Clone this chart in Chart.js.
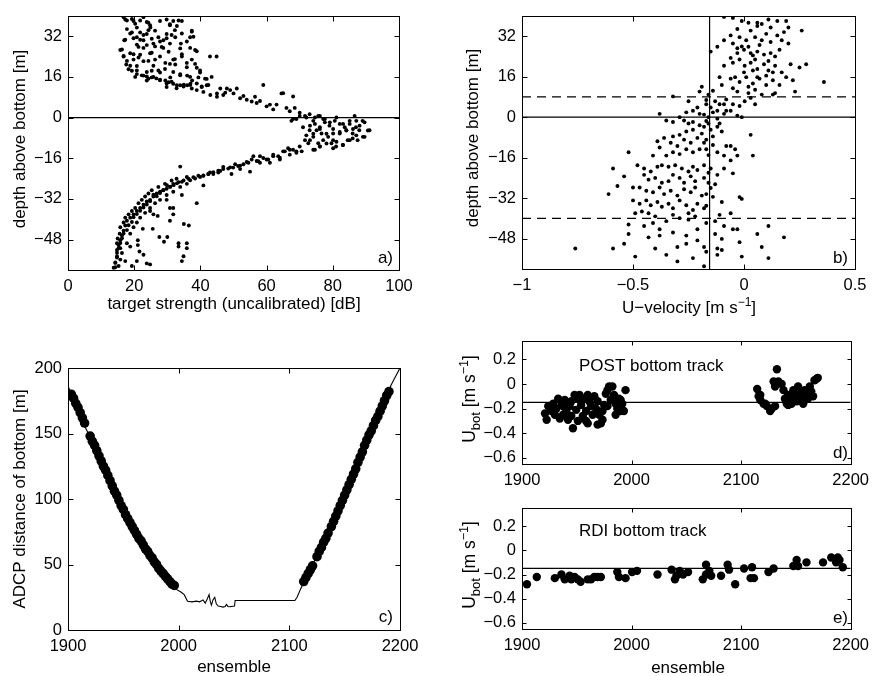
<!DOCTYPE html>
<html>
<head>
<meta charset="utf-8">
<script src="https://cdn.jsdelivr.net/npm/chart.js@4.4.1/dist/chart.umd.min.js"></script>
<style>
  html, body { margin: 0; padding: 0; background: #fff; }
  #fig { position: relative; width: 876px; height: 676px; overflow: hidden; }
  #fig canvas { position: absolute; }
</style>
</head>
<body>
<div id="fig">
  <canvas id="pa"></canvas>
  <canvas id="pb"></canvas>
  <canvas id="pc"></canvas>
  <canvas id="pd"></canvas>
  <canvas id="pe"></canvas>
</div>
<script>
// ---------- axis ranges and tick labels ----------
const depthRange = [-60, 40];
const depthTicks = [-48, -32, -16, 0, 16, 32];
const strengthRange = [0, 100];
const strengthTicks = [0, 20, 40, 60, 80, 100];
const velocityRange = [-1, 0.5];
const velocityTicks = [-1, -0.5, 0, 0.5];
const ensembleRange = [1900, 2200];
const ensembleTicks = [1900, 2000, 2100, 2200];
const distanceRange = [0, 200];
const distanceTicks = [0, 50, 100, 150, 200];
const ubotRange = [-0.65, 0.35];
const ubotTicks = [-0.6, -0.4, -0.2, 0, 0.2];

// ---------- a) target strength vs depth above bottom [dB, m] ----------
const targetStrength = [
  [17.3,38.6],[19.8,38],[20.8,35.4],[24.3,37.3],[24.9,35.4],[27.8,38],[29.8,38.6],[30.8,36.7],[31.8,38],[34.4,38],[32.9,36],
  [17.8,34.8],[17,30.4],[19.3,33.5],[20.8,31.6],[21.8,33.5],[22.8,30.4],[23.8,32.9],[25.3,31],[26.3,34.2],[27.3,31.6],
  [28.8,30.4],[29.8,32.9],[30.8,29.1],[32.4,31.6],[34.1,29.1],[36.9,31.6],[37.4,34.2],[25.8,29.1],[28.3,27.8],[21.3,27.8],[23.8,28.5],
  [15.8,26.6],[16.8,24],[18.8,25.3],[19.8,22.8],[21.8,24.7],[22.8,22.2],[24.8,25.3],[26.3,22.8],[27.8,24],[29.4,21.5],
  [30.4,25.9],[31.8,22.8],[33.9,27.2],[34.4,24],[37.4,22.8],[38.4,26.6],[42.9,24],[44.9,24],[17.6,20.9],[18.3,19],
  [20.8,20.3],[32.4,20.9],[35.9,21.5],[38.9,19.6],
  [16.8,39.5],[17.8,38.2],[19.3,38.8],[20.3,36.9],[21.8,38.2],[22.8,39.5],[23.8,37.6],[24.8,36.3],[24.3,34.4],[22.8,32.5],
  [21.8,30.6],[20.8,28.7],[19.8,31.2],[18.8,33.1],[17.3,30.6],[16.3,26.8],[16.8,24.2],[17.8,22.3],[18.8,20.4],[19.8,24.9],
  [21.3,23.6],[22.8,27.4],[24.3,22.3],[25.3,25.5],[26.3,28],[27.8,29.9],[28.8,27.4],[29.8,31.2],[31.3,32.5],[32.3,34.4],
  [30.8,36.3],[33.4,38.2],[34.4,33.1],[35.9,29.9],[36.9,27.4],[37.9,31.8],[38.9,26.1],[37.4,33.8],[34.4,24.9],[32.3,23],
  [30.8,21.1],[29.3,19.1],[27.3,18.5],[25.8,20.4],[23.8,17.9],[22.3,16.6],[20.8,18.5],[20.3,16],[31.8,17.9],[33.9,16.6],
  [35.9,19.8],[36.9,16],[38.4,21.1],[39.9,18.5],[41.4,15.3],[42.4,12.8],[43.4,16],[40.4,12.2],[38.9,13.4],[36.9,12.8],
  [34.9,12.2],[32.8,11.5],[31.3,14.1],[29.8,13.4],[27.8,14.7],[25.8,16],[24.3,15.3],[59,12.8],[65,9.6],[68,8.3],
  [19.3,18.4],[20.8,17.1],[22.8,16.5],[23.8,16.2],[25.3,15.8],[26.7,15.4],[27.8,14.9],[29.4,14.6],[30.4,13.9],[31.8,13.3],
  [32.9,12.7],[33.9,12.7],[35,12.9],[36,12.7],[37,13.3],[37.5,14.6],[39.4,15.8],[39.9,17.7],[41.9,15.2],[41.9,12.7],
  [30.9,15.8],[33.9,17.1],[36,16.5],[27.8,17.7],[25.3,18.4],[23.8,14.6],[29.8,12],
  [38.9,10.8],[40.9,10.1],[43,8.9],[45,9.5],[46.9,8.9],[48,11.4],[49,10.8],[50,9.5],[51,11.4],[52,7.6],[54,7],[55.5,6.3],
  [56.5,8.2],[57,5.7],[60,4.4],[61,5.1],[62,3.2],[63,5.1],[64.5,9.5],[66,3.8],[67,2.5],[68.5,3.8],[45,8.2],
  [40.4,12],[46,11.4],[37.4,11.4],[58,6.5],[53,8.5],[47.5,9.8],
  [70,1.9],[71.6,0.6],[73,1.3],[74.6,0],[76.1,0.6],[77.6,-0.6],[67.5,-1.3],[69,-0.6],
  [68,-0.6],[70,0.6],[72,0],[74.1,-1.3],[75.6,0.6],[77.1,-0.6],[79.1,-1.9],[81.1,0],[83.1,-2.5],[85.1,-1.3],[86.6,0.6],
  [88.1,-3.2],[89.6,-1.9],[90.6,-5.1],[89.1,-7.6],[87.1,-7],[85.1,-8.9],[83.1,-10.8],[81.1,-9.5],[80.1,-12.1],[78.1,-10.2],
  [76.1,-11.4],[74.6,-12.7],[73.1,-8.9],[72,-7],[74.1,-6.4],[76.1,-4.5],[78.1,-6.4],[80.1,-4.5],[82.1,-5.7],[84.1,-5.1],
  [86.1,-4.5],[87.1,-1.3],[71,-3.8],[73.1,-3.2],
  [73,-5],[74.6,-2.5],[76.1,-3.8],[77.6,-1.9],[79,-3.2],[80.6,-1.3],[82.1,-2.5],[83.6,-3.8],[85.1,-2.5],[89,-1.3],
  [91.1,-5],[89.6,-7.6],[88,-5],[86,-6.3],[84.5,-8.9],[83,-10.8],[81,-11.4],[79.6,-10.1],[78.6,-7.6],[77.1,-8.9],
  [75.6,-10.1],[74.1,-7.6],[72.6,-10.1],[71.6,-8.9],[80.1,-6.3],[82.1,-6.3],[84.1,-5],[86,-8.2],[87,-3.8],[75.1,-5],
  [76.6,-6.3],[74.1,-12.7],[76.1,-11.4],[80.1,-8.9],[87.5,-8.9],
  [70,-11.4],[68,-12.7],[66.5,-12.1],[65,-13.3],[63.5,-15.2],[62,-14.6],[60.5,-16.5],[59,-15.9],[57.5,-17.2],[56,-15.2],
  [54.5,-17.8],[53,-18.4],[51.4,-19.1],[49.9,-19.7],[48.4,-20.1],[46.9,-20.3],[45.4,-21.6],[43.9,-22.2],[42.4,-22.2],
  [40.9,-22.9],[39.4,-22.9],[40.9,-26.7],[33.9,-19.3],[55,-21.3],[49.4,-22.2],[67,-14.6],[69,-13.3],[64,-16.5],[61,-17.8],
  [58,-17.8],[52,-20.3],[46,-21],[42.9,-21.6],
  [70.6,-13.3],[69,-13.9],[67,-12.7],[65.5,-13.3],[64,-15.8],[62,-15.2],[60,-16.5],[58,-15.2],[57,-17.1],[55.5,-16.5],
  [54,-17.5],[52,-19],[50.5,-18.4],[49,-19.6],[46.9,-19.4],[45.4,-20.9],[43.9,-21.5],[42.4,-22.2],[40.9,-22.8],[39.9,-23.4],
  [38.4,-24],[36.9,-24.7],[35.9,-23.4],[34.4,-25.3],[32.9,-25.9],[31.9,-26.6],[30.9,-27.2],[29.9,-26.6],[28.8,-28.5],
  [27.8,-29.7],[26.8,-31],[25.8,-30.4],[24.8,-32.9],[23.8,-34.2],[22.8,-35.4],[21.8,-36.7],[20.8,-38],[19.8,-39.2],
  [19.3,-41.1],[18.3,-42.4],[17.8,-44.3],[16.8,-45.6],[16.3,-47.5],[15.8,-49.4],[15.3,-51.3],[14.8,-53.2],[14.8,-55.1],
  [14.3,-57],[14.3,-58.9],
  [37.9,-23.5],[36.4,-24.1],[34.9,-24.8],[33.4,-25.4],[31.8,-26.1],[30.8,-27.3],[29.8,-28],[28.8,-28.6],[27.8,-29.2],
  [26.8,-29.9],[25.8,-31.1],[24.8,-32.4],[23.8,-33],[22.8,-34.3],[21.8,-35.6],[20.8,-36.8],[19.8,-38.1],[18.8,-39.4],
  [17.8,-40.6],[17.3,-42.5],[16.8,-44.5],[16.3,-46.4],[15.8,-48.3],[15.3,-50.2],[14.8,-52.1],[14.8,-54.6],[14.3,-57.2],
  [13.8,-59.1],[32.8,-24.1],[31.3,-24.8],[29.3,-26.1],[27.3,-27.3],[25.3,-28.6],[24.3,-29.9],[23.3,-31.1],[22.3,-32.4],
  [21.3,-33.7],[20.3,-35.6],[19.3,-36.8],[18.3,-38.1],[17.3,-39.4],[16.8,-41.3],[15.8,-43.2],[15.6,-45.7],[15,-47.6],
  [14.8,-49.5],[15.8,-51.4],[16.3,-53.3],[15.8,-55.9],[15.3,-58.4],[17.3,-56.5],[17.8,-49.5],[18.8,-45.7],[19.8,-43.2],
  [20.8,-41.3],[21.8,-39.4],[23.3,-37.5],[24.8,-35.6],[26.3,-33.7],[27.8,-32.4],[29.8,-30.5],[31.8,-29.2],[33.9,-27.3],
  [35.9,-26.1],
  [29.8,-32.4],[34.4,-30.5],[38.9,-33.7],[30.8,-35.6],[31.8,-35.6],[25.8,-38.1],[27.1,-38.7],[30.8,-40.6],[35,-41.9],
  [36.5,-42.5],[22.6,-43.8],[25.6,-43.8],[27.6,-47],[29,-48.9],[30,-47],[21.1,-48.3],[21.1,-50.2],[21.6,-52.7],[22.8,-54],
  [20.8,-56.5],[23.8,-57.4],[24.8,-57.8],[33.4,-49.5],[35.9,-49.5],[33.4,-50.8],[35.9,-51.4],[34.9,-54.6],[34.4,-56.5],
  [18.8,-50.8],[19.3,-58.4],[24.8,-36.8],[31.8,-38.1]
];
const bottomDepth = 0;

// ---------- b) U-velocity vs depth above bottom [m/s, m] ----------
const velocityProfile = [
  [-0.05,39.2],[-0.01,38],[0.02,37.3],[0.06,37.3],[0.11,38.6],[0.15,38],[0.19,38],[0.2,35.4],[0.26,34.2],[0.12,35.4],
  [0.06,36],[0.03,34.2],[-0.03,34.8],[-0.06,32.3],[-0.09,30.4],[-0.12,27.8],[-0.15,25.9],[-0.02,31.6],[0.01,30.4],[0.05,31.6],
  [0.08,30.4],[0.1,32.9],[0.12,29.7],[0.15,32.3],[0.17,30.4],[0.2,29.1],[-0.05,29.1],[-0.03,27.2],[0,26.6],[0.03,25.3],
  [0.06,25.9],[0.09,24.7],[0.12,25.3],[0.16,26.6],[-0.06,23.4],[-0.05,21.5],[-0.02,22.8],[0.003,20.3],[0.03,21.5],[0.06,19],
  [0.09,20.9],[0.11,18.4],[0.14,20.3],[0.17,17.7],[0.21,20.9],[0.25,19.6],[0.28,20.9],[-0.09,20.3],[-0.11,15.8],[-0.06,15.2],
  [-0.04,15.8],[-0.02,13.9],[0.01,15.8],[0.04,13.3],[0.07,15.2],[0.1,12.7],[0.13,14.6],[0.16,12.7],[0.19,15.8],[0.22,14.6],
  [0.23,10.1],[0.36,13.9],[-0.1,12.7],[-0.05,11.4],[-0.03,10.1],[0.02,12],[0.05,10.8],[0.08,8.9],[0.13,8.9],[0.14,9.5],
  [0.03,7.6],[0.003,6.3],[-0.02,4.4],[-0.05,5.1],[-0.08,7],[-0.06,2.5],[-0.03,0.6],[-0.01,0],[0.05,5.1],[0.02,9.5],
  [0.06,15.8],[0.13,17.7],[0.04,18.4],[0,17.7],[-0.03,25.3],[0.02,27.8],[0.07,28.5],[0.05,22.8],[0.11,22.2],[0.14,24],
  [-0.09,39.6],[0.08,36.8],[0.18,33.6],[-0.01,27.9],[0.1,16.4],[0.04,24.4],
  [-0.32,8.2],[-0.25,6.3],[-0.2,10.1],[-0.19,12],[-0.16,8.9],[-0.13,6.3],[-0.17,5.1],[-0.21,3.8],[-0.23,2.5],[-0.26,1.9],
  [-0.15,3.8],[-0.12,2.5],[-0.11,5.1],[-0.09,1.3],[-0.38,1.3],[-0.29,0],[-0.16,0],[-0.12,-0.6],[-0.2,1.3],[-0.14,1.9],
  [-0.08,2.5],[-0.09,5.1],[-0.17,6.8],[-0.14,10.4],[-0.18,1.0],
  [-0.35,-1.3],[-0.32,-1.9],[-0.27,-1.3],[-0.25,-2.5],[-0.23,-1.9],[-0.2,-3.2],[-0.18,-3.8],[-0.16,-2.5],[-0.12,-3.8],
  [-0.11,-2.5],[-0.1,-5.7],[-0.23,-5],[-0.26,-5.7],[-0.29,-7],[-0.32,-7.6],[-0.36,-8.2],[-0.39,-9.5],[-0.33,-10.1],
  [-0.3,-11.4],[-0.27,-8.9],[-0.24,-10.1],[-0.21,-8.2],[-0.18,-10.1],[-0.17,-8.9],[-0.14,-7.6],[-0.17,-12.7],[-0.2,-12.7],
  [-0.23,-13.9],[-0.26,-12.7],[-0.29,-14.6],[-0.32,-13.9],[-0.35,-15.2],[-0.38,-12],[-0.41,-15.2],[-0.08,-11.4],
  [-0.06,-11.4],[-0.04,-12.7],[0.03,-7],[-0.09,-15.2],[-0.03,-15.2],[0.04,-15.2],[-0.12,-13.9],[-0.06,-17.1],[-0.52,-13.9],
  [-0.17,-1.5],[-0.15,-5.0],[-0.19,-6.5],[-0.14,-11.0],[-0.16,-15.0],
  [-0.48,-19],[-0.45,-20.3],[-0.42,-21.5],[-0.39,-19.6],[-0.37,-19],[-0.34,-19.6],[-0.31,-19],[-0.28,-20.3],[-0.25,-21.5],
  [-0.23,-19.6],[-0.21,-20.9],[-0.18,-19],[-0.15,-20.3],[-0.59,-20.3],[-0.45,-22.8],[-0.43,-24.7],[-0.4,-24],[-0.37,-25.9],
  [-0.34,-25.3],[-0.32,-22.8],[-0.29,-24],[-0.27,-25.9],[-0.24,-23.4],[-0.22,-25.3],[-0.18,-24],[-0.16,-25.9],[-0.12,-22.8],
  [-0.09,-20.3],[-0.05,-22.2],[-0.54,-23.4],[-0.57,-27.2],[-0.61,-30.4],[-0.5,-27.8],[-0.47,-27.8],[-0.44,-29.1],
  [-0.41,-29.7],[-0.38,-27.8],[-0.36,-30.4],[-0.33,-29.1],[-0.3,-31],[-0.27,-28.5],[-0.24,-29.7],[-0.22,-27.8],[-0.19,-31],
  [-0.17,-30.4],[-0.5,-32.9],[-0.47,-34.2],[-0.44,-32.9],[-0.42,-34.8],[-0.39,-33.5],[-0.37,-35.4],[-0.34,-34.2],[-0.32,-36],
  [-0.29,-32.9],[-0.26,-34.8],[-0.23,-36.7],[-0.21,-34.2],[-0.18,-36],[-0.1,-33.5],[-0.02,-31.6],[-0.01,-32.3],[-0.49,-38],
  [-0.46,-37.3],[-0.43,-38],[-0.4,-39.2],[-0.32,-38.6],[-0.29,-39.9],[-0.25,-38],[-0.22,-39.2],[-0.11,-38.6],[-0.06,-38],
  [-0.16,-22.0],[-0.15,-28.0],[-0.14,-31.5],[-0.17,-35.0],[-0.13,-26.5],
  [-0.52,-42.4],[-0.45,-43],[-0.41,-41.8],[-0.38,-44.3],[-0.35,-41.1],[-0.32,-45.6],[-0.25,-40.5],[-0.21,-44.3],[-0.17,-41.8],
  [-0.13,-41.1],[-0.09,-43],[-0.05,-44.3],[-0.03,-44.3],[0.06,-46.2],[0.11,-43],[0.18,-47.5],[-0.52,-46.2],[-0.43,-47.5],
  [-0.38,-46.8],[-0.26,-46.8],[-0.21,-48.7],[-0.13,-46.2],[-0.1,-48.1],[-0.54,-50],[-0.4,-51.9],[-0.3,-51.3],[-0.26,-50],
  [-0.18,-51.3],[-0.12,-51.9],[-0.02,-49.4],[0.08,-51.3],[-0.76,-51.9],[-0.59,-51.9],[-0.49,-55.1],[-0.3,-57],[-0.18,-58.9],
  [-0.12,-54.4],[-0.1,-52.5],[-0.01,-55.1],[0.11,-55.7],[-0.17,-53.2],[-0.23,-55.7],[-0.35,-54.4]
];
const meanVelocity = -0.155;
const layerTop = 8;
const layerBottom = -40;

// ---------- c) ADCP distance of bottom vs ensemble ----------
const bottomDistance = [
  [1900,186],[1904.5,178],[1913.6,158],[1922.6,143],[1928.6,130],[1937.7,115],[1946.7,97],[1955.8,82],[1964.8,69],
  [1973.9,57],[1982.9,47],[1990.4,38],[1998,31],[2002,29],[2005,27],[2008,22],[2012,21.5],[2016,22],[2019,21.5],
  [2022,23],[2024,20.5],[2026,24],[2027.5,27],[2028.5,22],[2029.6,19],[2031,23],[2032.6,25],[2034,20],[2035.7,18.3],
  [2038,18],[2040,17.5],[2042,18],[2043.2,19.5],[2044.5,18],[2046,17.8],[2050.5,18.3],[2051,22.5],[2080,22.5],
  [2105,22.5],[2107,25],[2110,31],[2115.6,41],[2124.6,56],[2133.6,71],[2142.7,89],[2151.7,107],[2160.8,125],
  [2169.8,145],[2178.9,160.5],[2187.9,178],[2192,187],[2195,192],[2200,200]
];
const trackedDistance = [
  [1903,180],[1905,177],[1907,173],[1909,170],[1911,166],[1913,162],[1915,158],
  [1920,148],[1922,144],[1924,141],[1926,137],[1928,133],[1930,129],[1932,125],[1934,122],[1936,118],[1938,114],
  [1940,110],[1942,106],[1944,103],[1946,99],[1948,95],[1950,92],[1952,88],[1954,85],[1956,82],[1958,79],[1960,76],
  [1962,73],[1964,70],[1966,68],[1968,65],[1970,62],[1972,60],[1974,57],[1976,55],[1978,52],[1980,50],[1982,47],
  [1984,45],[1986,43],[1988,41],[1990,39],[1992,37],[1994,35],[1996,34],
  [2113,37],[2115,40],[2117,43],[2119,46],[2121,49],[2125,56],[2127,60],[2129,63],[2131,67],[2133,70],[2135,74],
  [2138,79],[2140,83],[2142,87],[2144,91],[2146,95],[2148,99],[2150,103],[2152,107],[2154,111],[2156,115],[2158,119],
  [2160,123],[2162,128],[2164,132],[2166,136],[2168,141],[2170,145],[2172,149],[2174,152],[2176,156],[2178,160],
  [2180,163],[2182,167],[2184,171],[2186,175],[2188,179],[2190,182]
];

// ---------- d) POST bottom track U_bot [m/s] ----------
const postTrack = [
  [1921,-0.24],[1924,-0.18],[1927,-0.22],[1928.5,-0.16],[1931.5,-0.2],[1933,-0.12],[1936,-0.17],[1937.5,-0.25],
  [1939,-0.13],[1940.5,-0.22],[1942,-0.29],[1943.5,-0.18],[1945,-0.26],[1946.5,-0.36],[1948,-0.09],[1949.5,-0.21],
  [1951,-0.3],[1952.5,-0.09],[1954,-0.17],[1955.5,-0.26],[1957,-0.12],[1958.5,-0.22],[1960,-0.32],[1961.5,-0.14],
  [1963,-0.18],[1964.5,-0.25],[1966,-0.1],[1967.5,-0.2],[1969,-0.14],[1970.5,-0.25],[1972,-0.32],[1973.5,-0.22],
  [1975,-0.17],[1976.5,-0.08],[1978,-0.05],[1979.5,-0.02],[1981,-0.13],[1982.5,-0.02],[1984,-0.09],[1985.5,-0.16],
  [1987,-0.2],[1988.5,-0.12],[1990,-0.22],[1991.5,-0.16],[1993,-0.22],[1994.5,-0.05],[1930,-0.25],[1934.5,-0.28],
  [1945,-0.14],[1951,-0.12],[1960,-0.09],[1973.5,-0.29],[1978,-0.18],[1985.5,-0.25],[1990,-0.13],[1922.5,-0.29],
  [1937.5,-0.18],[1958.5,-0.3],[1969,-0.33],
  [2114.7,-0.04],[2116,-0.1],[2117.5,-0.13],[2120.5,-0.16],[2123.5,-0.18],[2126.5,-0.22],[2128,-0.2],[2131,-0.18],
  [2132.7,0.12],[2129.7,0.02],[2131,-0.02],[2134,0.02],[2137,0],[2138.7,-0.05],[2140,-0.12],[2141.7,-0.16],[2143,-0.09],
  [2144.7,-0.13],[2146,-0.16],[2147.7,-0.05],[2149,-0.1],[2150.7,-0.14],[2152,-0.02],[2153.7,-0.08],[2155,-0.12],
  [2156.7,-0.16],[2158,-0.05],[2159.7,-0.09],[2161,-0.12],[2162.7,-0.02],[2164,-0.06],[2165.7,-0.1],[2167,0.03],
  [2168.7,0.04],[2170,0.05],[2122,-0.16],[2117.5,-0.09],[2143,-0.17],[2158,-0.13]
];

// ---------- e) RDI bottom track U_bot [m/s] ----------
const rdiTrack = [
  [1904.5,-0.28],[1913.5,-0.22],[1930,-0.23],[1936,-0.2],[1939,-0.24],[1943.5,-0.21],[1945,-0.24],[1948,-0.22],
  [1951,-0.24],[1953.5,-0.26],[1960,-0.24],[1963,-0.24],[1966,-0.22],[1969,-0.22],[1972,-0.22],[1987,-0.18],
  [1988.5,-0.22],[1994.5,-0.23],[2000.5,-0.18],[2005,-0.17],[2023.7,-0.2],[2036.6,-0.16],[2039.6,-0.24],[2041,-0.21],
  [2044,-0.17],[2047,-0.2],[2051.6,-0.18],[2065,-0.24],[2068,-0.12],[2068,-0.2],[2071,-0.17],[2072.7,-0.21],
  [2081.7,-0.21],[2087.7,-0.12],[2089,-0.16],[2094.6,-0.28],[2102.7,-0.15],[2108.7,-0.23],[2110,-0.14],[2111.7,-0.23],
  [2125,-0.18],[2129.7,-0.15],[2147.7,-0.13],[2150.7,-0.08],[2152,-0.13],[2159.7,-0.1],[2174.8,-0.1],[2182.3,-0.06],
  [2186.8,-0.1],[2188.3,-0.06],[2189.8,-0.08],[2192.8,-0.14]
];
const meanBottomVelocity = -0.15;

// ---------- drawing helpers ----------
const FONT = '"Liberation Sans", Arial, Helvetica, sans-serif';
const TICK_FONT = { family: FONT, size: 16.5 };
const signed = v => (v < 0 ? '\u2212' + String(Math.abs(v)) : String(v));
const xy = arr => arr.map(([x, y]) => ({ x, y }));

// rich text: list of {t, size, dy}; anchor at (x, y) baseline
function drawRich(ctx, parts, x, y, rotate, align) {
  ctx.save();
  ctx.translate(x, y);
  if (rotate) ctx.rotate(-Math.PI / 2);
  ctx.textBaseline = 'alphabetic';
  ctx.textAlign = 'left';
  let w = 0;
  const widths = parts.map(p => {
    ctx.font = (p.size || 17) + 'px ' + FONT;
    const m = ctx.measureText(p.t).width;
    w += m;
    return m;
  });
  let cx = align === 'left' ? 0 : align === 'right' ? -w : -w / 2;
  parts.forEach((p, i) => {
    ctx.font = (p.size || 17) + 'px ' + FONT;
    ctx.fillText(p.t, cx, p.dy || 0);
    cx += widths[i];
  });
  ctx.restore();
}

// box around the axes with inward ticks on all four sides, plus labels
const framePlugin = {
  id: 'frame',
  afterDraw(chart, args, o) {
    const { ctx, chartArea: a, scales } = chart;
    const L = Math.round(a.left) + 0.5, R = Math.round(a.right) + 0.5;
    const T = Math.round(a.top) + 0.5, B = Math.round(a.bottom) + 0.5;
    ctx.save();
    ctx.strokeStyle = '#000';
    ctx.lineWidth = 1;
    ctx.strokeRect(L, T, R - L, B - T);
    const len = o.tick;
    ctx.beginPath();
    scales.x.ticks.forEach(t => {
      const p = Math.round(scales.x.getPixelForValue(t.value)) + 0.5;
      ctx.moveTo(p, B); ctx.lineTo(p, B - len);
      ctx.moveTo(p, T); ctx.lineTo(p, T + len);
    });
    scales.y.ticks.forEach(t => {
      const p = Math.round(scales.y.getPixelForValue(t.value)) + 0.5;
      ctx.moveTo(L, p); ctx.lineTo(L + len, p);
      ctx.moveTo(R, p); ctx.lineTo(R - len, p);
    });
    ctx.stroke();
    ctx.fillStyle = '#000';
    (o.texts || []).forEach(t => drawRich(ctx, t.parts, t.x - o.ox, t.y - o.oy, t.rotate, t.align));
    ctx.restore();
  }
};

function makePanel(id, box, area, xr, xt, yr, yt, datasets, tick, texts) {
  const cv = document.getElementById(id);
  const [cx, cy, cw, ch] = box;
  const [L, T, R, B] = area;
  cv.width = cw; cv.height = ch;
  cv.style.left = cx + 'px'; cv.style.top = cy + 'px';
  cv.style.width = cw + 'px'; cv.style.height = ch + 'px';
  const axis = (range, ticks, fit, pad) => ({
    type: 'linear', min: range[0], max: range[1],
    afterBuildTicks: s => { s.ticks = ticks.map(v => ({ value: v })); },
    afterFit: fit,
    grid: { display: false, drawTicks: false },
    border: { display: false },
    ticks: { font: TICK_FONT, color: '#000', padding: pad, maxRotation: 0, autoSkip: false, callback: v => signed(v) }
  });
  return new Chart(cv, {
    type: 'scatter',
    data: { datasets },
    options: {
      responsive: false, animation: false, events: [], devicePixelRatio: 1,
      layout: { padding: { left: 0, top: T - cy, right: cx + cw - R, bottom: 0 } },
      plugins: {
        legend: { display: false }, tooltip: { enabled: false },
        frame: { tick, texts, ox: cx, oy: cy }
      },
      scales: {
        x: axis(xr, xt, s => { s.height = cy + ch - B; }, 7),
        y: axis(yr, yt, s => { s.width = L - cx; }, 6)
      }
    },
    plugins: [framePlugin]
  });
}

const dots = (data, r) => ({ data: xy(data), pointRadius: r, pointBackgroundColor: '#000', pointBorderWidth: 0, showLine: false });
const rule = (pts, dash, w) => ({ data: xy(pts), showLine: true, pointRadius: 0, borderColor: '#000', borderWidth: w || 1, borderDash: dash || [] });
const T17 = t => [{ t, size: 17 }];
const ubotTitle = [{ t: 'U', size: 17.5 }, { t: 'bot', size: 13, dy: 5 }, { t: ' [m s', size: 17.5 }, { t: '\u22121', size: 12.5, dy: -7 }, { t: ']', size: 17.5 }];

// a)
makePanel('pa', [0, 0, 440, 320], [68, 8, 399, 270], strengthRange, strengthTicks, depthRange, depthTicks, [
  rule([[strengthRange[0], bottomDepth], [strengthRange[1], bottomDepth]], null, 1.2),
  dots(targetStrength, 1.95)
], 5, [
  { parts: T17('depth above bottom [m]'), x: 25, y: 139, rotate: true },
  { parts: T17('target strength (uncalibrated) [dB]'), x: 234, y: 309 },
  { parts: T17('a)'), x: 393, y: 263, align: 'right' }
]);

// b)
makePanel('pb', [440, 0, 436, 325], [522, 7, 855, 269], velocityRange, velocityTicks, depthRange, depthTicks, [
  rule([[meanVelocity, depthRange[0]], [meanVelocity, depthRange[1]]], null, 1.2),
  rule([[velocityRange[0], bottomDepth], [velocityRange[1], bottomDepth]], null, 1.2),
  rule([[velocityRange[0], layerTop], [velocityRange[1], layerTop]], [9, 6], 1.2),
  rule([[velocityRange[0], layerBottom], [velocityRange[1], layerBottom]], [9, 6], 1.2),
  dots(velocityProfile, 1.95)
], 5, [
  { parts: T17('depth above bottom [m]'), x: 478, y: 138, rotate: true },
  { parts: [{ t: 'U\u2212velocity [m s', size: 17 }, { t: '\u22121', size: 12, dy: -7 }, { t: ']', size: 17 }], x: 689, y: 313 },
  { parts: T17('b)'), x: 848, y: 263, align: 'right' }
]);

// c)
makePanel('pc', [0, 320, 440, 356], [68, 368, 400, 630], ensembleRange, ensembleTicks, distanceRange, distanceTicks, [
  dots(trackedDistance, 4.8),
  rule(bottomDistance, null, 1.1)
], 5, [
  { parts: T17('ADCP distance of bottom [m]'), x: 25, y: 499, rotate: true },
  { parts: T17('ensemble'), x: 234, y: 672 },
  { parts: T17('c)'), x: 393, y: 622, align: 'right' }
]);

// d)
makePanel('pd', [440, 325, 436, 167], [522, 339, 855, 464], ensembleRange, ensembleTicks, ubotRange, ubotTicks, [
  rule([[ensembleRange[0], meanBottomVelocity], [ensembleRange[1], meanBottomVelocity]], null, 1.2),
  dots(postTrack, 4.2)
], 4, [
  { parts: ubotTitle, x: 475, y: 399, rotate: true },
  { parts: T17('POST bottom track'), x: 579, y: 371, align: 'left' },
  { parts: T17('d)'), x: 848, y: 458, align: 'right' }
]);

// e)
makePanel('pe', [440, 492, 436, 184], [522, 505, 855, 629], ensembleRange, ensembleTicks, ubotRange, ubotTicks, [
  rule([[ensembleRange[0], meanBottomVelocity], [ensembleRange[1], meanBottomVelocity]], null, 1.2),
  dots(rdiTrack, 4.2)
], 4, [
  { parts: ubotTitle, x: 475, y: 565, rotate: true },
  { parts: T17('RDI bottom track'), x: 579, y: 536, align: 'left' },
  { parts: T17('ensemble'), x: 688, y: 673 },
  { parts: T17('e)'), x: 848, y: 623, align: 'right' }
]);
</script>
</body>
</html>
